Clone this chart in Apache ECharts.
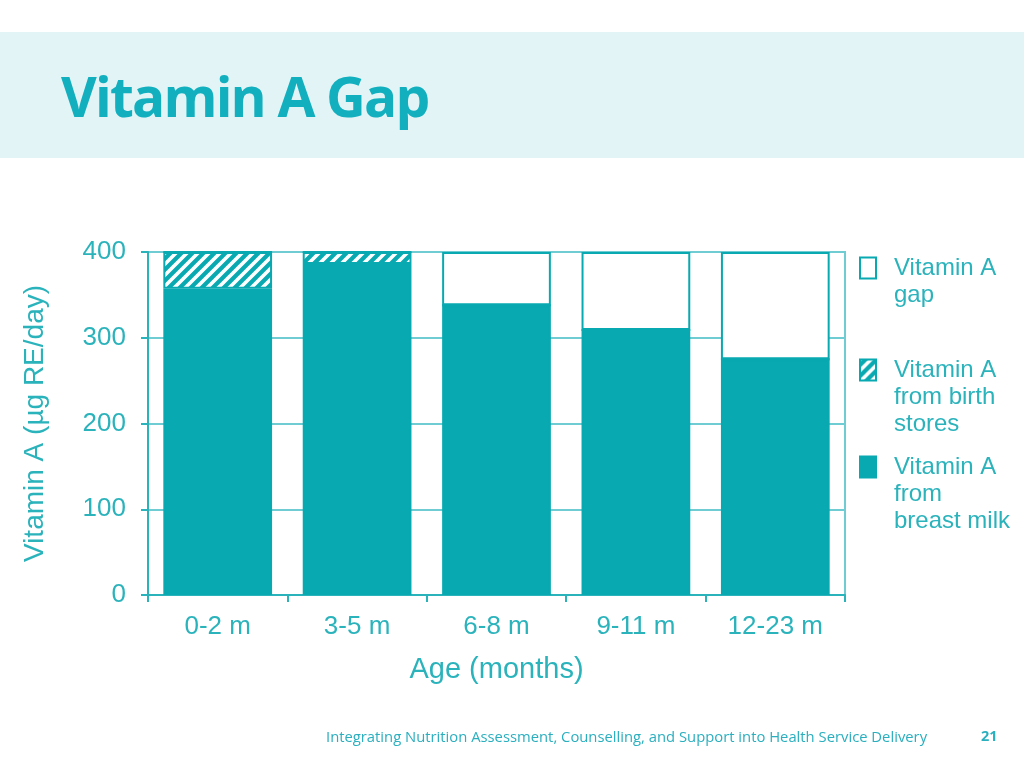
<!DOCTYPE html>
<html>
<head>
<meta charset="utf-8">
<script src="https://cdn.jsdelivr.net/npm/echarts@6/dist/echarts.min.js"></script>
<style>
html,body{margin:0;padding:0;background:#fff;}
#band{position:absolute;left:0;top:32px;width:1024px;height:126px;background:#E3F4F6;}
#title{position:absolute;left:61px;top:58px;font-family:"Open Sans",sans-serif;font-weight:700;font-size:55px;color:#12B0BF;letter-spacing:-1.8px;line-height:76px;white-space:nowrap;}
#footer{position:absolute;left:326px;top:726px;font-family:"Open Sans",sans-serif;font-size:14.8px;color:#2AAFBF;white-space:nowrap;}
#page{position:absolute;left:981px;top:726px;font-family:"Open Sans",sans-serif;font-weight:700;font-size:14.5px;color:#2AAFBF;}
#chart{position:absolute;left:0;top:0;width:1024px;height:768px;}
</style>
</head>
<body>
<div id="band"></div>
<div id="title">Vitamin A Gap</div>
<div id="chart"></div>
<div id="footer">Integrating Nutrition Assessment, Counselling, and Support into Health Service Delivery</div>
<div id="page">21</div>
<script>
var categories = ['0-2 m', '3-5 m', '6-8 m', '9-11 m', '12-23 m'];
var breastMilk = [357, 386, 338, 309, 275];
var birthStores = [43, 14, 0, 0, 0];
var gap = [0, 0, 62, 91, 125];
var yTicks = [0, 100, 200, 300, 400];

var TEAL = '#08A9B1';
var TEXT = '#2BB3BC';
var GRID = '#6FCCD2';

function hatch() {
  var c = document.createElement('canvas');
  var s = 11;
  c.width = s; c.height = s;
  var g = c.getContext('2d');
  g.fillStyle = TEAL;
  g.fillRect(0, 0, s, s);
  g.strokeStyle = '#ffffff';
  g.lineWidth = 3.6;
  g.beginPath();
  g.moveTo(-2, s + 2); g.lineTo(s + 2, -2);
  g.moveTo(-2, 2); g.lineTo(2, -2);
  g.moveTo(s - 2, s + 2); g.lineTo(s + 2, s - 2);
  g.stroke();
  return c;
}
var hatchPattern = { image: hatch(), repeat: 'repeat' };

var chart = echarts.init(document.getElementById('chart'));
var font = '"Liberation Sans", Arial, sans-serif';
var L = 27;
function mkLegend(name, lines, iconCenter) {
  var blanks = lines - 1;
  var h = (lines + blanks) * L;
  return {
    orient: 'vertical', left: 859, padding: 0, itemWidth: 16, itemHeight: 21,
    icon: 'rect', selectedMode: false,
    top: iconCenter - h / 2,
    textStyle: { color: TEXT, fontFamily: font, fontSize: 24, lineHeight: L, padding: [0, 0, 0, 13] },
    formatter: function (n) { var p = ''; for (var i = 0; i < blanks; i++) p += '\n'; return p + n; },
    data: [name]
  };
}
var nameGap = 'Vitamin A\ngap';
var nameStores = 'Vitamin A\nfrom birth\nstores';
var nameMilk = 'Vitamin A\nfrom\nbreast milk';

chart.setOption({
  animation: false,
  grid: { left: 148, right: 179, top: 252, bottom: 173, show: true, borderColor: GRID, borderWidth: 2, backgroundColor: 'transparent' },
  legend: [
    mkLegend(nameGap, 2, 268),
    mkLegend(nameStores, 3, 370),
    mkLegend(nameMilk, 3, 467)
  ],
  xAxis: {
    type: 'category', data: categories,
    name: 'Age (months)', nameLocation: 'middle', nameGap: 60,
    nameTextStyle: { color: TEXT, fontFamily: font, fontSize: 29 },
    axisLine: { lineStyle: { color: TEXT, width: 2 } },
    axisTick: { show: true, length: 7, lineStyle: { color: TEXT, width: 2 } },
    axisLabel: { color: TEXT, fontFamily: font, fontSize: 26, margin: 19 }
  },
  yAxis: {
    type: 'value', min: 0, max: 400, interval: 100,
    name: 'Vitamin A (µg RE/day)', nameLocation: 'middle', nameGap: 99,
    nameTextStyle: { color: TEXT, fontFamily: font, fontSize: 28 },
    axisLine: { show: true, lineStyle: { color: TEXT, width: 2 } },
    axisTick: { show: true, length: 7, lineStyle: { color: TEXT, width: 2 } },
    axisLabel: { color: TEXT, fontFamily: font, fontSize: 26, margin: 22,
      formatter: function (v) { return yTicks.indexOf(v) >= 0 ? String(v) : ''; } },
    splitLine: { show: true, lineStyle: { color: GRID, width: 2 } }
  },
  series: [
    { name: nameMilk, type: 'bar', stack: 'a', data: breastMilk, barCategoryGap: '22%',
      itemStyle: { color: TEAL, borderColor: TEAL, borderWidth: 2 } },
    { name: nameStores, type: 'bar', stack: 'a', data: birthStores,
      itemStyle: { color: hatchPattern, borderColor: TEAL, borderWidth: 2 } },
    { name: nameGap, type: 'bar', stack: 'a', data: gap,
      itemStyle: { color: '#ffffff', borderColor: TEAL, borderWidth: 2 } }
  ]
});
</script>
</body>
</html>
